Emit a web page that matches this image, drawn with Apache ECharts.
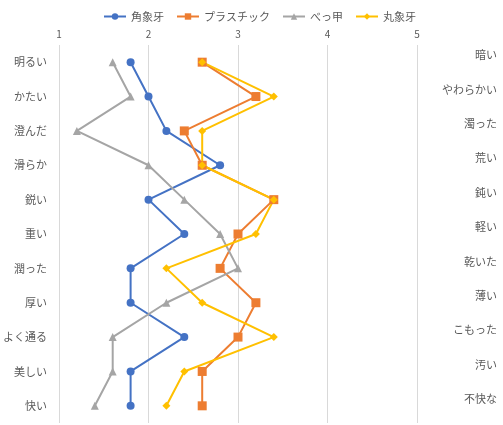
<!DOCTYPE html>
<html>
<head>
<meta charset="utf-8">
<script src="https://cdn.jsdelivr.net/npm/echarts@6/dist/echarts.min.js"></script>
<style>
  html, body { margin: 0; padding: 0; background: #fff; }
  #chart { width: 503px; height: 425px; }
</style>
</head>
<body>
<div id="chart"></div>
<script>
// 形容詞対（左・右）
const leftWords = ['明るい', 'かたい', '澄んだ', '滑らか', '鋭い', '重い', '潤った', '厚い', 'よく通る', '美しい', '快い']
const rightWords = ['暗い', 'やわらかい', '濁った', '荒い', '鈍い', '軽い', '乾いた', '薄い', 'こもった', '汚い', '不快な']

// 各素材の評価値
const kakuZouge = [1.8, 2.0, 2.2, 2.8, 2.0, 2.4, 1.8, 1.8, 2.4, 1.8, 1.8]
const plastic = [2.6, 3.2, 2.4, 2.6, 3.4, 3.0, 2.8, 3.2, 3.0, 2.6, 2.6]
const bekko = [1.6, 1.8, 1.2, 2.0, 2.4, 2.8, 3.0, 2.2, 1.6, 1.6, 1.4]
const maruZouge = [2.6, 3.4, 2.6, 2.6, 3.4, 3.2, 2.2, 2.6, 3.4, 2.4, 2.2]

const font = '"Noto Sans CJK JP", sans-serif'
const textColor = '#595959'

const chart = echarts.init(document.getElementById('chart'))

const makeSeries = (name, data, color, symbol, size) => ({
  name,
  type: 'line',
  data,
  symbol,
  symbolSize: size,
  yAxisIndex: 0,
  lineStyle: { color, width: 2 },
  itemStyle: { color },
  emphasis: { disabled: true }
})

const option = {
  animation: false,
  textStyle: { fontFamily: font },
  legend: {
    top: 6,
    left: 98,
    itemWidth: 22,
    itemHeight: 8,
    itemGap: 12,
    textStyle: { fontSize: 11, color: textColor, fontFamily: font }
  },
  grid: { left: 58, right: 86, top: 45, bottom: 2, containLabel: false },
  xAxis: {
    type: 'value',
    position: 'top',
    min: 1,
    max: 5,
    interval: 1,
    axisLine: { show: false },
    axisTick: { show: false },
    axisLabel: { color: textColor, fontSize: 10, margin: 6, fontFamily: font },
    splitLine: { lineStyle: { color: '#D9D9D9', width: 1 } }
  },
  yAxis: [
    {
      type: 'category',
      data: leftWords,
      inverse: true,
      axisLine: { show: false },
      axisTick: { show: false },
      splitLine: { show: false },
      axisLabel: { color: textColor, fontSize: 11, margin: 12, fontFamily: font }
    },
    {
      type: 'category',
      data: rightWords,
      inverse: true,
      position: 'right',
      axisLine: { show: false },
      axisTick: { show: false },
      splitLine: { show: false },
      axisLabel: {
        color: textColor, fontSize: 11, margin: 80, align: 'right',
        verticalAlign: 'bottom', lineHeight: 14, fontFamily: font
      }
    }
  ],
  series: [
    makeSeries('角象牙', kakuZouge, '#4472C4', 'circle', 8),
    makeSeries('プラスチック', plastic, '#ED7D31', 'rect', 9),
    makeSeries('べっ甲', bekko, '#A5A5A5', 'triangle', 8),
    makeSeries('丸象牙', maruZouge, '#FFC000', 'diamond', 8)
  ]
}

chart.setOption(option)
</script>
</body>
</html>
